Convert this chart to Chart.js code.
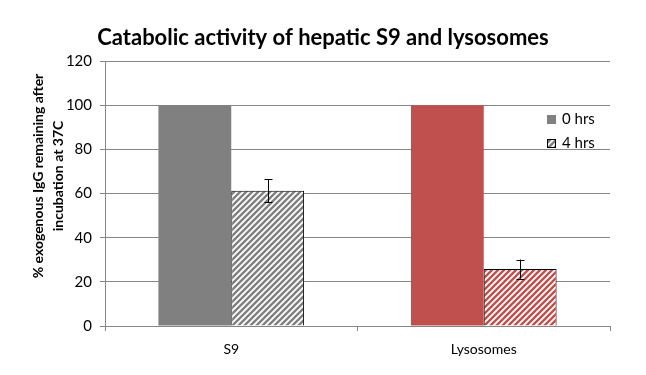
<!DOCTYPE html>
<html>
<head>
<meta charset="utf-8">
<script src="https://cdn.jsdelivr.net/npm/chart.js@4/dist/chart.umd.min.js"></script>
<style>
  body { margin: 0; background: #fff; }
  #wrap { width: 646px; height: 375px; }
</style>
</head>
<body>
<div id="wrap"><canvas id="myChart" width="646" height="375"></canvas></div>
<script>
// data
const categories = ["S9", "Lysosomes"];
const seriesNames = ["0 hrs", "4 hrs"];
const hrs0 = [100, 100];
const hrs4 = [61.3, 25.8];
const hrs4Err = [5.2, 4.3];
const yTicks = [0, 20, 40, 60, 80, 100, 120];

const grayColor = '#808080';
const redColor = '#C0504D';
const fontName = 'Lato, "Liberation Sans", sans-serif';

// diagonal "/" stripes
function stripes(color) {
  const s = 6;
  const c = document.createElement('canvas');
  c.width = s; c.height = s;
  const g = c.getContext('2d');
  g.fillStyle = '#fff';
  g.fillRect(0, 0, s, s);
  g.strokeStyle = color;
  g.lineWidth = 2.4;
  g.beginPath();
  g.moveTo(-1, s + 1); g.lineTo(s + 1, -1);
  g.moveTo(-1, 1); g.lineTo(1, -1);
  g.moveTo(s - 1, s + 1); g.lineTo(s + 1, s - 1);
  g.stroke();
  return g.createPattern(c, 'repeat');
}

const ctx = document.getElementById('myChart').getContext('2d');
const grayHatch = stripes(grayColor);
const redHatch = stripes(redColor);

const extras = {
  id: 'extras',
  afterDatasetsDraw(chart) {
    const c = chart.ctx;
    const y = chart.scales.y;
    // error bars on the 4 hrs bars
    const meta = chart.getDatasetMeta(1);
    c.save();
    c.strokeStyle = '#000';
    c.lineWidth = 1;
    meta.data.forEach((bar, i) => {
      const top = y.getPixelForValue(hrs4[i] + hrs4Err[i]);
      const bot = y.getPixelForValue(hrs4[i] - hrs4Err[i]);
      const x = Math.round(bar.x) + 0.5;
      c.beginPath();
      c.moveTo(x, top); c.lineTo(x, bot);
      c.moveTo(x - 4, Math.round(top) + 0.5); c.lineTo(x + 4, Math.round(top) + 0.5);
      c.moveTo(x - 4, Math.round(bot) + 0.5); c.lineTo(x + 4, Math.round(bot) + 0.5);
      c.stroke();
    });
    c.restore();
  },
  afterDraw(chart) {
    const c = chart.ctx;
    // title
    c.save();
    c.fillStyle = '#000';
    c.font = 'bold 22px ' + fontName;
    c.textAlign = 'center';
    c.textBaseline = 'middle';
    c.fillText('Catabolic activity of hepatic S9 and lysosomes', 323, 38);
    c.restore();

    c.save();
    // y axis title, two lines
    c.fillStyle = '#000';
    c.font = 'bold 14px ' + fontName;
    c.textAlign = 'center';
    c.textBaseline = 'middle';
    c.translate(48, 176);
    c.rotate(-Math.PI / 2);
    c.fillText('% exogenous IgG remaining after', 0, -10);
    c.fillText('incubation at 37C', 0, 10);
    c.restore();

    // legend
    c.save();
    c.font = '15px ' + fontName;
    c.textBaseline = 'middle';
    c.fillStyle = grayColor;
    c.fillRect(547, 115, 9, 9);
    c.fillStyle = grayHatch;
    c.fillRect(547, 139, 9, 9);
    c.strokeStyle = '#000';
    c.lineWidth = 1;
    c.strokeRect(547.5, 139.5, 8, 8);
    c.fillStyle = '#000';
    c.fillText(seriesNames[0], 562, 119);
    c.fillText(seriesNames[1], 562, 143);
    c.restore();
  }
};

new Chart(ctx, {
  type: 'bar',
  data: {
    labels: categories,
    datasets: [
      {
        label: seriesNames[0],
        data: hrs0,
        backgroundColor: [grayColor, redColor],
        borderWidth: 0
      },
      {
        label: seriesNames[1],
        data: hrs4,
        backgroundColor: [grayHatch, redHatch],
        borderColor: '#000',
        borderWidth: 1
      }
    ]
  },
  options: {
    responsive: false,
    animation: false,
    layout: { padding: { top: 61, right: 36, bottom: 0, left: 0 } },
    datasets: { bar: { categoryPercentage: 0.577, barPercentage: 1 } },
    plugins: {
      legend: { display: false },
      tooltip: { enabled: false },
      title: { display: false }
    },
    scales: {
      x: {
        afterFit: s => { s.height = 49; },
        grid: {
          offset: true,
          drawOnChartArea: false,
          drawTicks: true,
          tickLength: 5,
          color: '#868686'
        },
        border: { color: '#868686' },
        ticks: {
          color: '#000',
          padding: 10,
          font: { family: fontName, size: 14 }
        }
      },
      y: {
        min: 0,
        max: 120,
        afterFit: s => { s.width = 105; },
        afterBuildTicks: s => { s.ticks = yTicks.map(v => ({ value: v })); },
        grid: {
          color: '#868686',
          tickLength: 5
        },
        border: { color: '#868686' },
        ticks: {
          color: '#000',
          padding: 8,
          font: { family: fontName, size: 15 }
        }
      }
    }
  },
  plugins: [extras]
});
</script>
</body>
</html>
